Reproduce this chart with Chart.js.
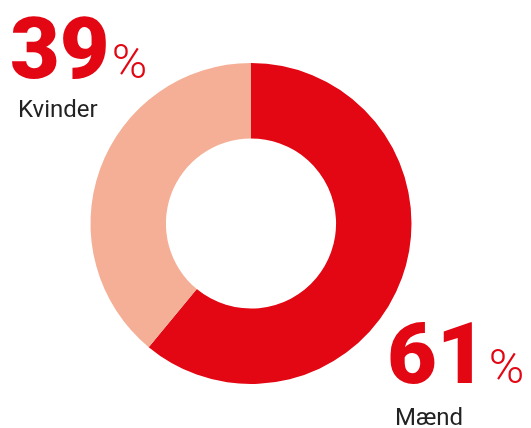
<!DOCTYPE html>
<html>
<head>
<meta charset="utf-8">
<script src="https://cdn.jsdelivr.net/npm/chart.js@4.4.1/dist/chart.umd.min.js"></script>
<style>
  html, body { margin: 0; padding: 0; background: #fff; }
  #wrap { position: relative; width: 531px; height: 428px; overflow: hidden; font-family: Roboto, sans-serif; }
  #chart { position: absolute; left: 0; top: 0; }
  .stat { position: absolute; line-height: 1; white-space: nowrap; }
  .num { font-size: 86px; font-weight: 900; color: #e30613; }
  .pct { font-size: 48px; font-weight: 300; color: #e30613; margin-left: 2px; }
  .name { position: absolute; font-size: 24px; font-weight: 400; color: #222; line-height: 1; white-space: nowrap; }
</style>
</head>
<body>
<div id="wrap">
  <canvas id="chart" width="531" height="428"></canvas>
</div>
<script>
// Share of men / women
const labels = ['Mænd', 'Kvinder'];
const values = [61, 39];
const colors = ['#e30613', '#f5af96'];

// where the callouts sit: [left, top] of the number line, [left, top] of the name
const statPos = [[387, 311], [10, 6]];
const namePos = [[395, 405], [18, 97]];

const wrap = document.getElementById('wrap');
labels.forEach((label, i) => {
    const stat = document.createElement('div');
    stat.className = 'stat';
    stat.style.left = statPos[i][0] + 'px';
    stat.style.top = statPos[i][1] + 'px';
    stat.innerHTML = '<span class="num">' + values[i] + '</span><span class="pct">%</span>';
    wrap.appendChild(stat);

    const name = document.createElement('div');
    name.className = 'name';
    name.style.left = namePos[i][0] + 'px';
    name.style.top = namePos[i][1] + 'px';
    name.textContent = label;
    wrap.appendChild(name);
});

const ctx = document.getElementById('chart').getContext('2d');
new Chart(ctx, {
    type: 'doughnut',
    data: {
        labels: labels,
        datasets: [{
            data: values,
            backgroundColor: colors,
            borderWidth: 0
        }]
    },
    options: {
        responsive: false,
        animation: false,
        cutout: '53%',
        layout: { padding: { left: 90, right: 119, top: 63, bottom: 44 } },
        plugins: {
            legend: { display: false },
            tooltip: { enabled: false }
        }
    }
});
</script>
</body>
</html>
